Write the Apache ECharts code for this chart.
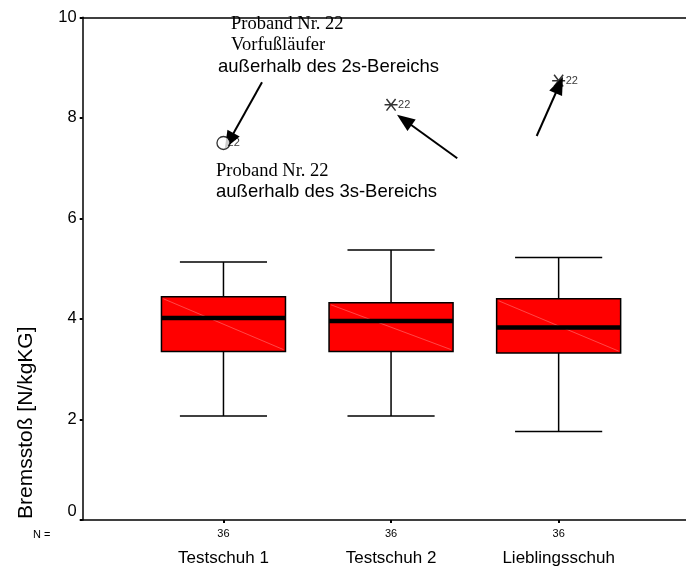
<!DOCTYPE html>
<html>
<head>
<meta charset="utf-8">
<script src="https://cdn.jsdelivr.net/npm/echarts@6/dist/echarts.min.js"></script>
<style>html,body{margin:0;padding:0;background:#fff;}#c{width:686px;height:568px;}</style>
</head>
<body>
<div id="c"></div>
<script>
// ---- data ----
const categories = ['Testschuh 1', 'Testschuh 2', 'Lieblingsschuh'];
const nValues = [36, 36, 36];
const whiskerLow = [2.07, 2.07, 1.76];
const q1 = [3.35, 3.35, 3.32];
const medians = [4.02, 3.96, 3.83];
const q3 = [4.44, 4.32, 4.40];
const whiskerHigh = [5.13, 5.37, 5.22];
const yTicks = [0, 2, 4, 6, 8, 10];
// outliers: [category position, value, case label]
const outlierCircle = [[1, 7.50, '22']];
const outlierStars = [[2, 8.26, '22'], [3, 8.74, '22']];
// annotation arrows: [[x1,y1],[x2,y2]] in data units
const arrows = [
  [[1.230, 8.71], [1.034, 7.54]],
  [[2.395, 7.195], [2.079, 7.957]],
  [[2.869, 7.639], [3.004, 8.653]]
];

const boxData = categories.map((c, i) => [i + 1, whiskerLow[i], q1[i], medians[i], q3[i], whiskerHigh[i]]);

const chart = echarts.init(document.getElementById('c'), null, {renderer: 'canvas'});
const SANS = '"Liberation Sans", Arial, sans-serif';
const SERIF = '"Liberation Serif", "Times New Roman", serif';

const starPath = 'path://M0,5 L10,5 M1.5,0.5 L8.5,9.5 M8.5,0.5 L1.5,9.5';

chart.setOption({
  animation: false,
  backgroundColor: '#fff',
  grid: {left: 82.7, right: 0, top: 17.3, bottom: 48, containLabel: false},
  xAxis: [{
    type: 'value', min: 0.16, max: 3.76, position: 'bottom',
    axisLine: {show: true, onZero: false, lineStyle: {color: '#000', width: 1.5}},
    axisTick: {show: true, customValues: [1, 2, 3], length: 3, lineStyle: {color: '#000', width: 2}},
    axisLabel: {
      show: true, customValues: [1, 2, 3], margin: 7,
      formatter: function (v) {
        const i = Math.round(v) - 1;
        return '{n|' + nValues[i] + '}\n{c|' + categories[i] + '}';
      },
      rich: {
        n: {fontSize: 11, fontFamily: SANS, color: '#000', lineHeight: 14},
        c: {fontSize: 17, fontFamily: SANS, color: '#000', lineHeight: 34}
      }
    },
    splitLine: {show: false}
  }, {
    type: 'value', min: 0.16, max: 3.76, position: 'top',
    axisLine: {show: true, onZero: false, lineStyle: {color: '#000', width: 1.5}},
    axisTick: {show: false}, axisLabel: {show: false}, splitLine: {show: false}
  }],
  yAxis: {
    type: 'value', min: 0, max: 10, interval: 2,
    axisLine: {show: true, onZero: false, lineStyle: {color: '#000', width: 1.5}},
    axisTick: {show: true, length: 3, lineStyle: {color: '#000', width: 2}},
    axisLabel: {
      color: '#000', fontSize: 16.5, fontFamily: SANS, margin: 6,
      formatter: function (v) { return v === 0 ? '{z|0}' : String(v); },
      rich: {z: {fontSize: 16.5, fontFamily: SANS, color: '#000', padding: [0, 0, 18, 0]}}
    },
    splitLine: {show: false}
  },
  graphic: [
    {type: 'text', x: 16, y: 519, rotation: Math.PI / 2, style: {text: 'Bremsstoß [N/kgKG]', font: '21px ' + SANS, fill: '#000', textAlign: 'left', verticalAlign: 'top'}},
    {type: 'text', x: 33, y: 535, style: {text: 'N =', font: '11px ' + SANS, fill: '#000', verticalAlign: 'middle'}},
    {type: 'text', x: 231, y: 24, style: {text: 'Proband Nr. 22', font: '18.5px ' + SERIF, fill: '#000', verticalAlign: 'middle'}},
    {type: 'text', x: 231, y: 45, style: {text: 'Vorfußläufer', font: '18.5px ' + SERIF, fill: '#000', verticalAlign: 'middle'}},
    {type: 'text', x: 218, y: 67, style: {text: 'außerhalb des 2s-Bereichs', font: '18.5px ' + SANS, fill: '#000', verticalAlign: 'middle'}},
    {type: 'text', x: 216, y: 171, style: {text: 'Proband Nr. 22', font: '18.5px ' + SERIF, fill: '#000', verticalAlign: 'middle'}},
    {type: 'text', x: 216, y: 192, style: {text: 'außerhalb des 3s-Bereichs', font: '18.5px ' + SANS, fill: '#000', verticalAlign: 'middle'}}
  ],
  series: [
    {
      type: 'custom',
      data: boxData,
      encode: {x: 0, y: [1, 2, 3, 4, 5]},
      renderItem: function (params, api) {
        const x = api.value(0);
        const pMin = api.coord([x, api.value(1)]);
        const pQ1 = api.coord([x, api.value(2)]);
        const pMed = api.coord([x, api.value(3)]);
        const pQ3 = api.coord([x, api.value(4)]);
        const pMax = api.coord([x, api.value(5)]);
        const unit = api.size([1, 0])[0];
        const hb = unit * 0.37, hc = unit * 0.26;
        const cx = pMed[0];
        const lineS = {stroke: '#000', lineWidth: 1.5};
        return {
          type: 'group',
          children: [
            {type: 'line', shape: {x1: cx, y1: pMax[1], x2: cx, y2: pQ3[1]}, style: lineS},
            {type: 'line', shape: {x1: cx, y1: pQ1[1], x2: cx, y2: pMin[1]}, style: lineS},
            {type: 'line', shape: {x1: cx - hc, y1: pMax[1], x2: cx + hc, y2: pMax[1]}, style: lineS},
            {type: 'line', shape: {x1: cx - hc, y1: pMin[1], x2: cx + hc, y2: pMin[1]}, style: lineS},
            {type: 'rect', shape: {x: cx - hb, y: pQ3[1], width: hb * 2, height: pQ1[1] - pQ3[1]}, style: {fill: '#ff0000', stroke: '#000', lineWidth: 1.5}},
            {type: 'line', shape: {x1: cx - hb + 2, y1: pQ3[1] + 2, x2: cx + hb - 2, y2: pQ1[1] - 2}, style: {stroke: 'rgba(255,150,150,0.8)', lineWidth: 0.6}},
            {type: 'line', shape: {x1: cx - hb, y1: pMed[1], x2: cx + hb, y2: pMed[1]}, style: {stroke: '#000', lineWidth: 4.5}}
          ]
        };
      }
    },
    {
      type: 'scatter',
      data: outlierCircle.map(d => [d[0], d[1], d[2]]),
      symbol: 'circle', symbolSize: 13,
      itemStyle: {color: '#fff', borderColor: '#000', borderWidth: 1.3},
      label: {show: true, position: 'right', distance: -3, formatter: p => p.data[2], fontSize: 11, fontFamily: SANS, color: '#000'},
      z: 5
    },
    {
      type: 'scatter',
      data: outlierStars.map(d => [d[0], d[1], d[2]]),
      symbol: starPath, symbolSize: 13, symbolKeepAspect: true,
      itemStyle: {color: 'none', borderColor: '#000', borderWidth: 1.5},
      label: {show: true, position: 'right', distance: -2, formatter: p => p.data[2], fontSize: 11, fontFamily: SANS, color: '#000'},
      z: 5
    },
    {
      type: 'line',
      data: [],
      markLine: {
        silent: true, animation: false,
        symbol: ['none', 'triangle'], symbolSize: [14, 18],
        lineStyle: {color: '#000', width: 2, type: 'solid'},
        label: {show: false},
        data: arrows.map(a => [{coord: a[0]}, {coord: a[1]}])
      }
    }
  ]
});
</script>
</body>
</html>
